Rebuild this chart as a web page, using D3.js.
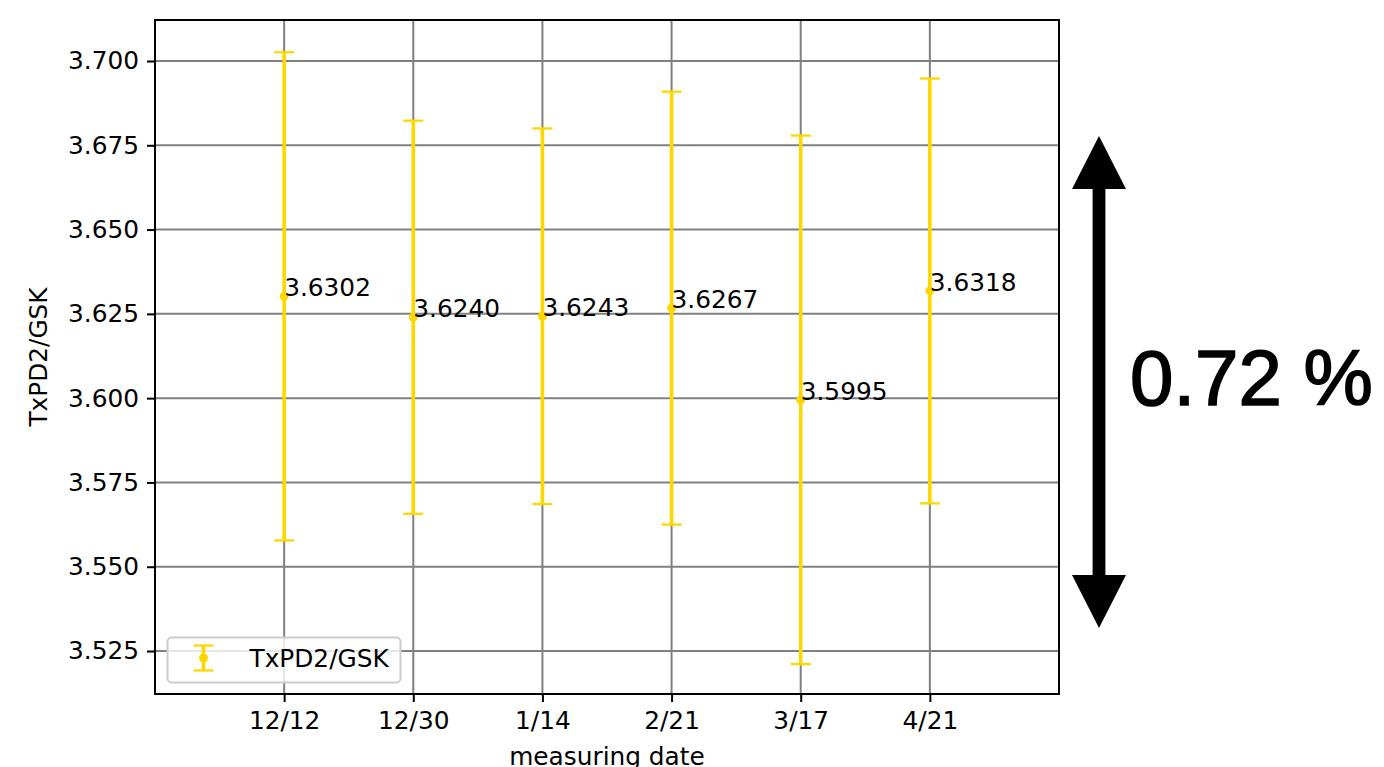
<!DOCTYPE html>
<html>
<head>
<meta charset="utf-8">
<script src="https://cdn.jsdelivr.net/npm/d3@7"></script>
<style>
  html, body { margin: 0; padding: 0; background: #fff; }
  svg { display: block; }
  text { font-family: "DejaVu Sans", sans-serif; fill: #000; }
</style>
</head>
<body>
<svg id="chart" width="1384" height="767"></svg>
<script>
// Measurement dates and TxPD2/GSK ratio with its uncertainty
const dates = ["12/12", "12/30", "1/14", "2/21", "3/17", "4/21"];
const ratios = [3.6302, 3.6240, 3.6243, 3.6267, 3.5995, 3.6318];
const errors = [0.0724, 0.0583, 0.0557, 0.0642, 0.0784, 0.0630];
const yTicks = [3.525, 3.550, 3.575, 3.600, 3.625, 3.650, 3.675, 3.700];
const yDomain = [3.51225, 3.71216];
const spreadLabel = "0.72 %";
const seriesName = "TxPD2/GSK";

const W = 1384, H = 767;
const plot = { left: 155, top: 20, right: 1059, bottom: 694 };
const gold = "#FFD700";
const fontPx = 24.8;

const svg = d3.select("#chart");

const x = d3.scaleLinear().domain([-1, dates.length]).range([plot.left, plot.right]);
const y = d3.scaleLinear().domain(yDomain).range([plot.bottom, plot.top]);

// grid lines
const grid = svg.append("g").attr("stroke", "#808080").attr("stroke-width", 2);
grid.selectAll("line.v").data(dates).join("line")
  .attr("x1", (d, i) => x(i)).attr("x2", (d, i) => x(i))
  .attr("y1", plot.top).attr("y2", plot.bottom);
grid.selectAll("line.h").data(yTicks).join("line")
  .attr("x1", plot.left).attr("x2", plot.right)
  .attr("y1", d => y(d)).attr("y2", d => y(d));

// axes
const xAxis = d3.axisBottom(x).tickValues(d3.range(dates.length))
  .tickFormat(i => dates[i]).tickSize(8).tickPadding(8).tickSizeOuter(0);
const yAxis = d3.axisLeft(y).tickValues(yTicks)
  .tickFormat(d3.format(".3f")).tickSize(8).tickPadding(8).tickSizeOuter(0);

const gx = svg.append("g").attr("transform", `translate(0,${plot.bottom})`).call(xAxis);
const gy = svg.append("g").attr("transform", `translate(${plot.left},0)`).call(yAxis);
[gx, gy].forEach(g => {
  g.select(".domain").remove();
  g.selectAll(".tick line").attr("stroke", "#000").attr("stroke-width", 2);
  g.selectAll(".tick text").style("font-size", fontPx + "px").attr("fill", "#000");
});
gx.selectAll(".tick text").attr("dy", "0.76em");

// error bars
const bars = svg.append("g");
const capHalf = 10;
dates.forEach((d, i) => {
  const cx = x(i), hi = y(ratios[i] + errors[i]), lo = y(ratios[i] - errors[i]);
  bars.append("line").attr("x1", cx).attr("x2", cx).attr("y1", hi).attr("y2", lo)
    .attr("stroke", gold).attr("stroke-width", 3.6);
  [hi, lo].forEach(cy => bars.append("line")
    .attr("x1", cx - capHalf).attr("x2", cx + capHalf).attr("y1", cy).attr("y2", cy)
    .attr("stroke", gold).attr("stroke-width", 2.3));
  bars.append("circle").attr("cx", cx).attr("cy", y(ratios[i])).attr("r", 4.5).attr("fill", gold);
});

// value annotations
svg.append("g").selectAll("text").data(ratios).join("text")
  .attr("x", (d, i) => x(i)).attr("y", d => y(d))
  .style("font-size", fontPx + "px")
  .text(d => d.toFixed(4));

// frame
svg.append("rect")
  .attr("x", plot.left).attr("y", plot.top)
  .attr("width", plot.right - plot.left).attr("height", plot.bottom - plot.top)
  .attr("fill", "none").attr("stroke", "#000").attr("stroke-width", 2);

// axis titles
svg.append("text")
  .attr("x", (plot.left + plot.right) / 2).attr("y", 765)
  .attr("text-anchor", "middle").style("font-size", fontPx + "px")
  .text("measuring date");
svg.append("text")
  .attr("transform", `translate(47,${(plot.top + plot.bottom) / 2}) rotate(-90)`)
  .attr("text-anchor", "middle").style("font-size", fontPx + "px")
  .text(seriesName);

// legend
const lg = svg.append("g").attr("transform", "translate(167.5,637.5)");
lg.append("rect").attr("width", 233).attr("height", 45).attr("rx", 4)
  .attr("fill", "#fff").attr("fill-opacity", 0.8)
  .attr("stroke", "#cccccc").attr("stroke-width", 2);
const mx = 36;
lg.append("line").attr("x1", mx).attr("x2", mx).attr("y1", 8).attr("y2", 33)
  .attr("stroke", gold).attr("stroke-width", 3.6);
[8, 33].forEach(cy => lg.append("line").attr("x1", mx - capHalf).attr("x2", mx + capHalf)
  .attr("y1", cy).attr("y2", cy).attr("stroke", gold).attr("stroke-width", 2.3));
lg.append("circle").attr("cx", mx).attr("cy", 20.5).attr("r", 4.5).attr("fill", gold);
lg.append("text").attr("x", 82).attr("y", 29.5).style("font-size", fontPx + "px").text(seriesName);

// spread indicator: double-headed arrow and percentage
const ax = 1099, aTop = 136, aBot = 628, headH = 53, headW = 27, shaft = 6.4;
svg.append("path")
  .attr("d", `M${ax},${aTop} L${ax + headW},${aTop + headH} L${ax + shaft},${aTop + headH}
              L${ax + shaft},${aBot - headH} L${ax + headW},${aBot - headH} L${ax},${aBot}
              L${ax - headW},${aBot - headH} L${ax - shaft},${aBot - headH}
              L${ax - shaft},${aTop + headH} L${ax - headW},${aTop + headH} Z`)
  .attr("fill", "#000");
svg.append("text")
  .attr("x", 1130).attr("y", 405)
  .style("font-family", "'Liberation Sans', Arial, sans-serif")
  .style("font-size", "78px")
  .attr("stroke", "#000").attr("stroke-width", 1.6)
  .text(spreadLabel);
</script>
</body>
</html>
